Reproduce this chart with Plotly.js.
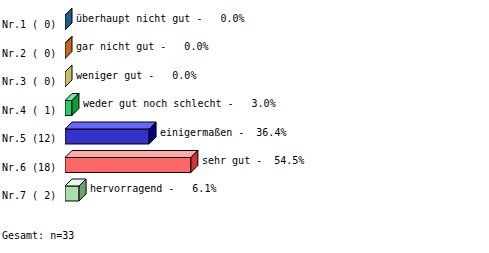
<!DOCTYPE html>
<html>
<head>
<meta charset="utf-8">
<script src="https://cdn.plot.ly/plotly-3.0.1.min.js"></script>
<style>
  html, body { margin: 0; padding: 0; background: #fff; }
  #chart { width: 489px; height: 253px; }
</style>
</head>
<body>
<div id="chart"></div>
<script>
// Survey answers, one row per answer option
const rowIds = ['Nr.1', 'Nr.2', 'Nr.3', 'Nr.4', 'Nr.5', 'Nr.6', 'Nr.7'];
const categories = ['überhaupt nicht gut', 'gar nicht gut', 'weniger gut',
  'weder gut noch schlecht', 'einigermaßen', 'sehr gut', 'hervorragend'];
const counts = [0, 0, 0, 1, 12, 18, 2];
const percents = [0.0, 0.0, 0.0, 3.0, 36.4, 54.5, 6.1];
const total = 33;

// face colours of each block: front, top, side
const frontColors = ['#1f5c8c', '#c8641e', '#c8c060', '#22cc66', '#3333cc', '#ff6666', '#aaddaa'];
const topColors   = ['#4f8cbc', '#f0945e', '#e8e8a0', '#66ee99', '#6666ff', '#ffaaaa', '#e8f8e8'];
const sideColors  = ['#1f5c8c', '#c8641e', '#c8c060', '#119933', '#000080', '#cc3333', '#70a070'];

// geometry in axis units
const FACE_H = 0.526;   // height of the front face (row units)
const DEPTH_X = 3.03;   // depth offset along x (percent units)
const DEPTH_Y = 0.2456; // depth offset along y (row units)

const rows = rowIds.map((_, i) => i);
const NB = '\u00a0';
const font = { family: 'DejaVu Sans Mono, Liberation Mono, monospace', size: 10, color: '#000' };

const traces = [];

// front faces
traces.push({
  type: 'bar', orientation: 'h',
  x: percents, y: rows, width: FACE_H,
  marker: { color: frontColors, line: { color: '#000', width: 1 } },
  hoverinfo: 'skip', showlegend: false
});

// top and side faces of every block
rows.forEach(i => {
  const v = percents[i];
  const top = i - FACE_H / 2;
  const bot = i + FACE_H / 2;
  traces.push({
    type: 'scatter', mode: 'lines', fill: 'toself',
    x: [0, v, v + DEPTH_X, DEPTH_X, 0],
    y: [top, top, top - DEPTH_Y, top - DEPTH_Y, top],
    fillcolor: topColors[i], line: { color: '#000', width: 1 },
    hoverinfo: 'skip', showlegend: false
  });
  traces.push({
    type: 'scatter', mode: 'lines', fill: 'toself',
    x: [v, v, v + DEPTH_X, v + DEPTH_X, v],
    y: [top, bot, bot - DEPTH_Y, top - DEPTH_Y, top],
    fillcolor: sideColors[i], line: { color: '#000', width: 1 },
    hoverinfo: 'skip', showlegend: false
  });
});

const annotations = [];
rows.forEach(i => {
  // row label on the left
  annotations.push({
    xref: 'paper', yref: 'y', x: -65 / 231, y: i, yshift: -2,
    xanchor: 'left', yanchor: 'middle', showarrow: false,
    text: (rowIds[i] + ' (' + String(counts[i]).padStart(2, ' ') + ')').replace(/ /g, NB),
    font: font
  });
  // value label next to the block
  annotations.push({
    xref: 'x', yref: 'y', x: percents[i] + DEPTH_X, y: i, xshift: 2, yshift: 4.5,
    xanchor: 'left', yanchor: 'middle', showarrow: false,
    text: (categories[i] + ' - ' + percents[i].toFixed(1).padStart(5, ' ') + '%').replace(/ /g, NB),
    font: font
  });
});
annotations.push({
  xref: 'paper', yref: 'y', x: -65 / 231, y: 7.49,
  xanchor: 'left', yanchor: 'middle', showarrow: false,
  text: ('Gesamt: n=' + total).replace(/ /g, NB), font: font
});

const layout = {
  width: 489, height: 253,
  margin: { l: 65, r: 193, t: 0, b: 0, pad: 0 },
  paper_bgcolor: '#fff', plot_bgcolor: '#fff',
  showlegend: false,
  xaxis: { range: [0, 100], visible: false, fixedrange: true },
  yaxis: { range: [8.088, -0.7895], visible: false, fixedrange: true },
  annotations: annotations,
  font: font
};

Plotly.newPlot('chart', traces, layout, { staticPlot: true, displayModeBar: false });
</script>
</body>
</html>
